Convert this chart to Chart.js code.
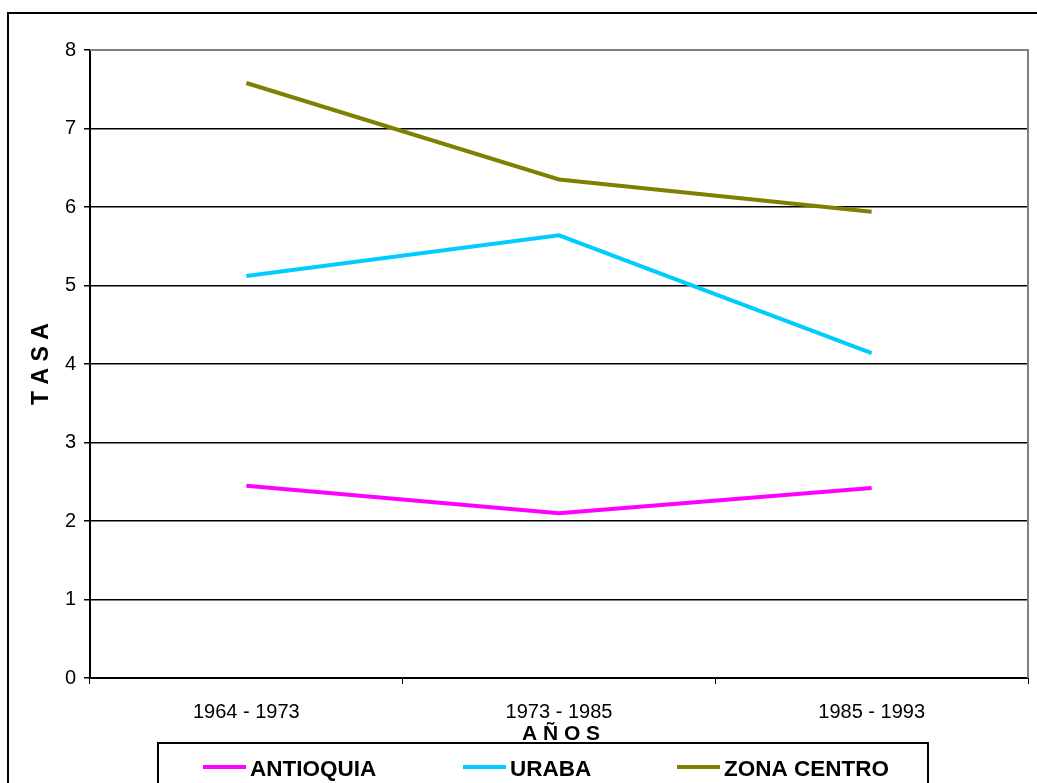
<!DOCTYPE html>
<html>
<head>
<meta charset="utf-8">
<script src="https://cdn.jsdelivr.net/npm/chart.js"></script>
<style>
  html, body { margin: 0; padding: 0; background: #fff; }
  #chart { display: block; }
</style>
</head>
<body>
<canvas id="chart" width="1037" height="783"></canvas>
<script>
// データ
const periodos = ['1964 - 1973', '1973 - 1985', '1985 - 1993'];
const antioquia = [2.45, 2.10, 2.42];
const uraba = [5.12, 5.64, 4.14];
const zonaCentro = [7.58, 6.35, 5.94];
const yTicks = [0, 1, 2, 3, 4, 5, 6, 7, 8];

const FONT = 'Arial, "Liberation Sans", sans-serif';

// 枠線・凡例・軸タイトル
const decorPlugin = {
  id: 'decor',
  afterDraw(chart) {
    const { ctx, chartArea: a } = chart;
    ctx.save();

    // 外枠
    ctx.strokeStyle = '#000';
    ctx.lineWidth = 2;
    ctx.strokeRect(8, 13, 1045, 800);

    // プロット領域（上・右）
    ctx.strokeStyle = '#808080';
    ctx.lineWidth = 2;
    ctx.beginPath();
    ctx.moveTo(a.left, a.top);
    ctx.lineTo(a.right, a.top);
    ctx.lineTo(a.right, a.bottom);
    ctx.stroke();

    // 軸タイトル
    ctx.fillStyle = '#000';
    ctx.font = 'bold 21px ' + FONT;
    ctx.textAlign = 'center';
    ctx.textBaseline = 'middle';
    ctx.fillText('A Ñ O S', 561, 734);

    ctx.save();
    ctx.translate(42, 364);
    ctx.rotate(-Math.PI / 2);
    ctx.font = 'bold 23px ' + FONT;
    ctx.fillText('T A S A', 0, 0);
    ctx.restore();

    // 凡例
    ctx.fillStyle = '#fff';
    ctx.fillRect(158, 743, 770, 60);
    ctx.strokeStyle = '#000';
    ctx.lineWidth = 2;
    ctx.strokeRect(158, 743, 770, 60);

    const starts = [203, 463, 677];
    ctx.font = 'bold 22.5px ' + FONT;
    ctx.textAlign = 'left';
    chart.data.datasets.forEach((ds, i) => {
      const x = starts[i];
      ctx.strokeStyle = ds.borderColor;
      ctx.lineWidth = 4;
      ctx.beginPath();
      ctx.moveTo(x, 767);
      ctx.lineTo(x + 43, 767);
      ctx.stroke();
      ctx.fillStyle = '#000';
      ctx.fillText(ds.label, x + 47, 770);
    });

    ctx.restore();
  }
};

new Chart(document.getElementById('chart'), {
  type: 'line',
  data: {
    labels: periodos,
    datasets: [
      { label: 'ANTIOQUIA', data: antioquia, borderColor: '#ff00ff' },
      { label: 'URABA', data: uraba, borderColor: '#00ccff' },
      { label: 'ZONA CENTRO', data: zonaCentro, borderColor: '#808000' }
    ].map(d => ({ ...d, borderWidth: 4, pointRadius: 0, tension: 0, fill: false }))
  },
  options: {
    responsive: false,
    animation: false,
    layout: { padding: { top: 50, right: 9, left: 0, bottom: 0 } },
    plugins: {
      legend: { display: false },
      tooltip: { enabled: false }
    },
    scales: {
      x: {
        offset: true,
        grid: {
          offset: true,
          drawOnChartArea: false,
          tickLength: 6,
          color: '#000',
          tickColor: '#000'
        },
        border: { display: true, color: '#000', width: 2 },
        ticks: { color: '#000', font: { family: FONT, size: 20 }, padding: 16, maxRotation: 0 },
        afterFit: (s) => { s.height = 105; }
      },
      y: {
        min: yTicks[0],
        max: yTicks[yTicks.length - 1],
        afterBuildTicks: (s) => { s.ticks = yTicks.map(v => ({ value: v })); },
        grid: {
          color: (c) => (c.tick && c.tick.value === 8 ? '#808080' : '#000'),
          tickColor: '#000',
          tickLength: 6,
          lineWidth: 1.5
        },
        border: { display: true, color: '#000', width: 2 },
        ticks: { color: '#000', font: { family: FONT, size: 20 }, padding: 8 },
        afterFit: (s) => { s.width = 90; }
      }
    }
  },
  plugins: [decorPlugin]
});
</script>
</body>
</html>
